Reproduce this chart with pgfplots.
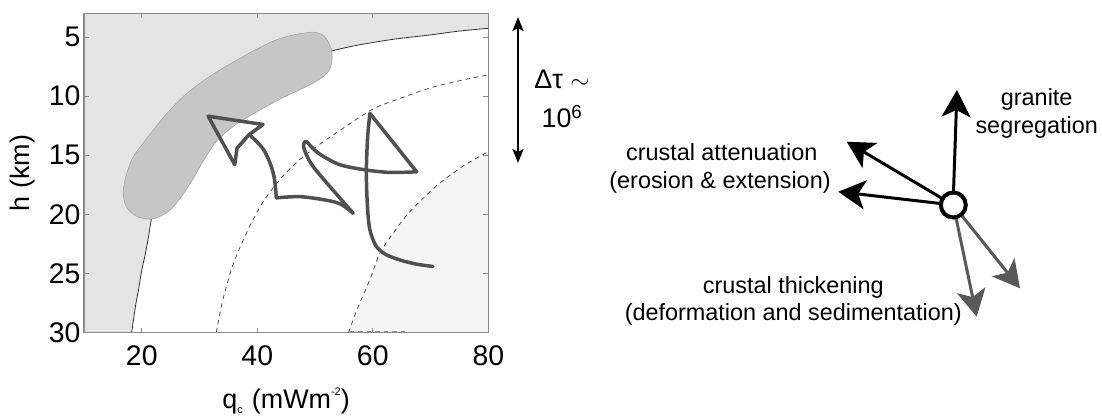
\documentclass[border=0pt]{standalone}
\usepackage{fontspec}
\setmainfont{Liberation Sans}
\usepackage{pgfplots}
\pgfplotsset{compat=1.18}
\usetikzlibrary{arrows.meta}
\definecolor{lightreg}{HTML}{E4E4E4}
\definecolor{paler}{HTML}{F5F5F5}
\definecolor{blobc}{HTML}{C6C6C6}
\definecolor{blobe}{HTML}{A5A5A5}
\definecolor{pathc}{HTML}{505050}
\definecolor{axc}{HTML}{8A8A8A}
\begin{document}
\begin{tikzpicture}[x=1bp,y=1bp]
\useasboundingbox (0,0) rectangle (1102,416);
\begin{axis}[
  at={(84bp,83.3bp)}, anchor=south west,
  width=404.3bp, height=319.4bp, scale only axis,
  xmin=10, xmax=80, ymin=3, ymax=30, y dir=reverse,
  xtick={20,40,60,80}, ytick={5,10,15,20,25,30},
  /pgf/number format/assume math mode=true,
  ticklabel style={font=\fontsize{28.5}{30}\selectfont},
  xticklabel style={yshift=-9bp},
  tick align=inside, major tick length=5bp,
  tick style={axc, line width=0.8bp},
  axis line style={axc, line width=1.2bp},
  axis on top=true,
  xlabel={q\raisebox{-5bp}{\fontsize{11}{11}\selectfont c}\hspace{9bp}(mWm\raisebox{13bp}{\fontsize{11}{11}\selectfont -2})},
  xlabel style={font=\fontsize{27}{30}\selectfont, at={(axis description cs:0.5,-0.215)}, anchor=center},
  ylabel={h (km)},
  ylabel style={font=\fontsize{27}{30}\selectfont, at={(axis description cs:-0.151,0.5)}, anchor=center},
]
% light gray region (upper-left of solid curve)
\addplot[draw=none, fill=lightreg] coordinates {
 (10,3) (80,3) (80,4.27) (75,4.5) (69.9,4.83) (63.5,5.2) (57.3,5.7) (52.7,6.2)
 (46,7.0) (40,8.0) (34,9.5) (29,11.5) (25.5,14) (23,17) (21.7,20.3) (21.2,21.8)
 (20.6,23.4) (20.0,24.7) (19.5,26.2) (19.0,27.5) (18.6,28.8) (18.25,30) (10,30)
} -- cycle;
% very light region (lower-right of dashed curve 2)
\addplot[draw=none, fill=paler] coordinates {
 (55.8,30) (57.3,28) (59.5,25.5) (61.2,23.3) (63.5,21.6) (66,20.0) (69,18.5)
 (72,17.2) (76,15.8) (80,14.7) (80,30)
} -- cycle;
% solid boundary curve
\addplot[smooth, tension=0.5, draw=black!80, line width=0.8bp] coordinates {
 (80,4.27) (75,4.5) (69.9,4.83) (63.5,5.2) (57.3,5.7) (52.7,6.2)
 (46,7.0) (40,8.0) (34,9.5) (29,11.5) (25.5,14) (23,17) (21.7,20.3) (21.2,21.8)
 (20.6,23.4) (20.0,24.7) (19.5,26.2) (19.0,27.5) (18.6,28.8) (18.25,30)
};
% dark gray blob
\addplot[smooth, tension=0.55, fill=blobc, draw=blobe, line width=0.6bp] coordinates {
 (46,4.85) (49.6,4.6) (51.6,4.95) (52.8,6.0) (52.9,7.1) (52.1,8.05) (49.5,8.95)
 (45,10.0) (40,11.3) (36,12.5) (33,13.8) (31,15.2) (29,16.9) (27,18.4) (25,19.6)
 (23,20.2) (21.3,20.4) (19.3,20.2) (17.5,19.5) (16.8,18.4) (17.0,17.3) (17.7,16.1)
 (18.9,14.85) (23.6,11.9) (27.5,9.9) (32.5,8.1) (38.5,6.4) (43,5.3) (46,4.85)
};
% dashed curves
\addplot[smooth, tension=0.5, draw=black!70, line width=0.8bp, dash pattern=on 4.5bp off 4bp] coordinates {
 (32.9,30) (34.0,27.3) (35.7,24.4) (38,21.7) (40.8,19.1) (44,17.0) (47.5,15.3)
 (51,14.0) (54.3,12.9) (60,11.1) (64.7,10.2) (70,9.3) (75,8.7) (80,8.2)
};
\addplot[smooth, tension=0.5, draw=black!70, line width=0.8bp, dash pattern=on 4.5bp off 4bp] coordinates {
 (55.8,30) (57.3,28) (59.5,25.5) (61.2,23.3) (63.5,21.6) (66,20.0) (69,18.5)
 (72,17.2) (76,15.8) (80,14.7)
};
\addplot[draw=black!45, line width=0.8bp, dash pattern=on 4.5bp off 4bp] coordinates {(56,29.92) (66,29.92)};
% P-T-t path
\begin{scope}[line width=3.5bp, pathc, line cap=round, line join=round]
\addplot[smooth, tension=0.5, pathc] coordinates {
 (70.4,24.4) (67.5,24.2) (64.7,23.85) (62.3,23.4) (60.6,22.7) (59.6,21.5) (59.2,20.2)
 (58.95,18) (58.9,16) (59.1,13.5) (59.5,11.46)
};
\addplot[pathc] coordinates {(59.5,11.46) (67.6,16.4)};
\addplot[smooth, tension=0.5, pathc] coordinates {
 (67.6,16.4) (63,16.45) (58.9,16.25) (54.3,15.8) (50.8,14.9) (49.2,14.2) (48.4,13.8)
 (48.0,14.15) (48.4,14.85) (49.7,15.97) (53.1,17.94) (56.6,19.9)
};
\addplot[smooth, tension=0.5, pathc] coordinates {
 (56.6,19.9) (54.5,19.15) (52,18.8) (47.4,18.5) (43.3,18.6)
};
\addplot[smooth, tension=0.5, pathc] coordinates {
 (43.3,18.6) (43.0,17.1) (42.4,15.9) (41.2,14.6) (39.8,13.8) (38.6,13.25)
};
\addplot[pathc] coordinates {
 (38.6,13.25) (41.0,12.4) (31.5,11.7) (36.1,15.8) (36.5,14.4) (38.6,13.25)
};
\end{scope}
\end{axis}
% Delta tau annotation
\draw[line width=2.5bp, {Stealth[length=14bp,width=11bp,inset=3bp]}-{Stealth[length=14bp,width=11bp,inset=3bp]}] (518,399) -- (518,253);
\node[anchor=base, font=\fontsize{27}{30}\selectfont, inner sep=0] at (562,328) {Δτ $\sim$};
\node[anchor=base, font=\fontsize{27}{30}\selectfont, inner sep=0] at (562,289) {10\textsuperscript{6}};
% right diagram
\def\ah{{Stealth[length=27bp,width=29bp,inset=7bp]}}
\draw[line width=3bp, -\ah] (953.5,224) -- (957,326);
\draw[line width=3bp, -\ah] (942.1,217.6) -- (846.7,274.3);
\draw[line width=3bp, -\ah] (940.4,212.5) -- (838.3,224.3);
\draw[line width=3bp, black!65, -\ah] (956,198.3) -- (976.7,99.3);
\draw[line width=3bp, black!65, -\ah] (961.4,200.9) -- (1020,127.7);
\draw[line width=4bp, fill=white] (953.3,211) circle (12.5);
\begin{scope}[every node/.style={anchor=base, inner sep=0, font=\fontsize{23.5}{28}\selectfont}]
\node at (1036.7,311) {granite};
\node at (1036.7,282.7) {segregation};
\node at (721.7,256) {crustal attenuation};
\node at (720,227.7) {(erosion \& extension)};
\node at (793.3,122.7) {crustal thickening};
\node at (793.3,96) {(deformation and sedimentation)};
\end{scope}
\end{tikzpicture}
\end{document}
